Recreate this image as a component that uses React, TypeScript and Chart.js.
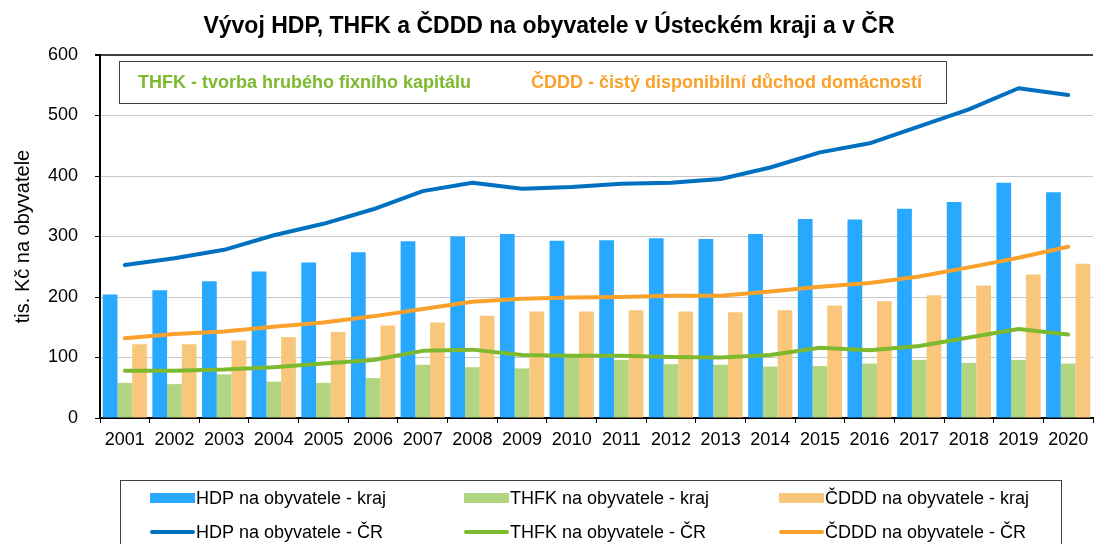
import React, { useEffect, useRef } from "react";
import { Chart, registerables } from "chart.js";

Chart.register(...registerables);

const years = ["2001","2002","2003","2004","2005","2006","2007","2008","2009","2010","2011","2012","2013","2014","2015","2016","2017","2018","2019","2020"];

const hdpKraj = [204,211,226,242,257,274,292,300,304,293,294,297,296,304,329,328,346,357,389,373];
const thfkKraj = [58,56,72,60,58,66,88,84,82,100,96,89,88,85,86,90,96,91,96,90];
const cdddKraj = [122,122,128,134,142,153,158,169,176,176,178,176,175,178,186,193,203,219,237,255];

const hdpCR = [253,264,278,302,321,345,375,389,379,382,387,389,395,414,439,454,482,510,545,534];
const thfkCR = [78,78,80,84,90,96,111,113,104,103,103,101,100,104,116,112,119,133,147,138];
const cdddCR = [132,139,143,151,158,168,180,192,197,199,200,202,202,209,217,223,234,249,265,283];

const titleText = "Vývoj HDP, THFK a ČDDD na obyvatele v Ústeckém kraji a v ČR";
const noteThfk = "THFK - tvorba hrubého fixního kapitálu";
const noteCddd = "ČDDD - čistý disponibilní důchod domácností";
const yTitle = "tis. Kč na obyvatele";

const FONT = "'Liberation Sans', Arial, sans-serif";

const decorPlugin = {
  id: "decor",
  afterDraw(chart: any) {
    const ctx = chart.ctx;
    ctx.save();
    // title
    ctx.fillStyle = "#000";
    ctx.font = `bold 23px ${FONT}`;
    ctx.textAlign = "center";
    ctx.textBaseline = "middle";
    ctx.fillText(titleText, 549, 27);

    // annotation box
    ctx.fillStyle = "#fff";
    ctx.fillRect(119.5, 61.5, 827, 42);
    ctx.strokeStyle = "#404040";
    ctx.lineWidth = 1;
    ctx.strokeRect(119.5, 61.5, 827, 42);
    ctx.font = `bold 18px ${FONT}`;
    ctx.textAlign = "left";
    ctx.fillStyle = "#7DB92E";
    ctx.fillText(noteThfk, 138, 83);
    ctx.fillStyle = "#F9A12A";
    ctx.fillText(noteCddd, 531, 83);

    // legend
    ctx.strokeStyle = "#404040";
    ctx.strokeRect(120.5, 480.5, 941, 80);
    const ds = chart.data.datasets;
    const cols = [150, 464, 779];
    const rows = [498, 532];
    ctx.font = `18px ${FONT}`;
    ds.forEach((d: any, i: number) => {
      const row = i < 3 ? 0 : 1;
      const col = i % 3;
      const x = cols[col];
      const y = rows[row];
      if (d.type === "line") {
        ctx.strokeStyle = d.borderColor;
        ctx.lineWidth = 4;
        ctx.lineCap = "round";
        ctx.beginPath();
        ctx.moveTo(x + 2, y);
        ctx.lineTo(x + 43, y);
        ctx.stroke();
      } else {
        ctx.fillStyle = d.backgroundColor;
        ctx.fillRect(x, y - 5, 45, 10);
      }
      ctx.fillStyle = "#000";
      ctx.textAlign = "left";
      ctx.textBaseline = "middle";
      ctx.fillText(d.label, x + 46, y + 1);
    });
    ctx.restore();
  },
};

export default function App() {
  const ref = useRef<HTMLCanvasElement | null>(null);
  useEffect(() => {
    document.body.style.margin = "0";
    if (!ref.current) return;
    const chart = new Chart(ref.current, {
      type: "bar",
      data: {
        labels: years,
        datasets: [
          { type: "bar", label: "HDP na obyvatele - kraj", data: hdpKraj, backgroundColor: "#29A8FF", order: 2 },
          { type: "bar", label: "THFK na obyvatele - kraj", data: thfkKraj, backgroundColor: "#B2D582", order: 2 },
          { type: "bar", label: "ČDDD na obyvatele - kraj", data: cdddKraj, backgroundColor: "#F8C77C", order: 2 },
          { type: "line", label: "HDP na obyvatele - ČR", data: hdpCR, borderColor: "#0070C0", backgroundColor: "#0070C0", borderWidth: 4, pointRadius: 0, tension: 0, order: 1, borderCapStyle: "round", borderJoinStyle: "round" },
          { type: "line", label: "THFK na obyvatele - ČR", data: thfkCR, borderColor: "#7DB92E", backgroundColor: "#7DB92E", borderWidth: 4, pointRadius: 0, tension: 0, order: 1, borderCapStyle: "round", borderJoinStyle: "round" },
          { type: "line", label: "ČDDD na obyvatele - ČR", data: cdddCR, borderColor: "#F9A12A", backgroundColor: "#F9A12A", borderWidth: 4, pointRadius: 0, tension: 0, order: 1, borderCapStyle: "round", borderJoinStyle: "round" },
        ] as any,
      },
      options: {
        animation: false,
        responsive: true,
        maintainAspectRatio: false,
        datasets: { bar: { categoryPercentage: 0.89, barPercentage: 1.0 } },
        layout: { padding: { top: 55, bottom: 96, left: 0, right: 3 } },
        plugins: { legend: { display: false }, title: { display: false }, tooltip: { enabled: false } },
        scales: {
          x: {
            offset: true,
            grid: { display: true, drawOnChartArea: false, drawTicks: true, tickLength: 5, tickColor: "#000", offset: true },
            border: { color: "#000", width: 2 },
            ticks: { color: "#000", font: { family: FONT, size: 18 }, padding: 6, maxRotation: 0, autoSkip: false },
            afterFit: (s: any) => { s.height = 30; },
          },
          y: {
            min: 0,
            max: 600,
            ticks: { stepSize: 100, color: "#000", font: { family: FONT, size: 18 }, padding: 17 },
            grid: {
              color: (c: any) => (c.tick && c.tick.value === 600 ? "#404040" : "#C8C8C8"),
              lineWidth: (c: any) => (c.tick && c.tick.value === 600 ? 2 : 1),
              tickLength: 5,
              tickColor: "#000",
            },
            border: { color: "#000", width: 2 },
            title: { display: true, text: yTitle, color: "#000", font: { family: FONT, size: 20 }, padding: { top: 11, bottom: 0 } },
            afterFit: (s: any) => { s.width = 100; },
          },
        },
      } as any,
      plugins: [decorPlugin],
    });
    return () => chart.destroy();
  }, []);
  return (
    <div style={{ width: 1096, height: 544, position: "relative" }}>
      <canvas ref={ref} />
    </div>
  );
}
